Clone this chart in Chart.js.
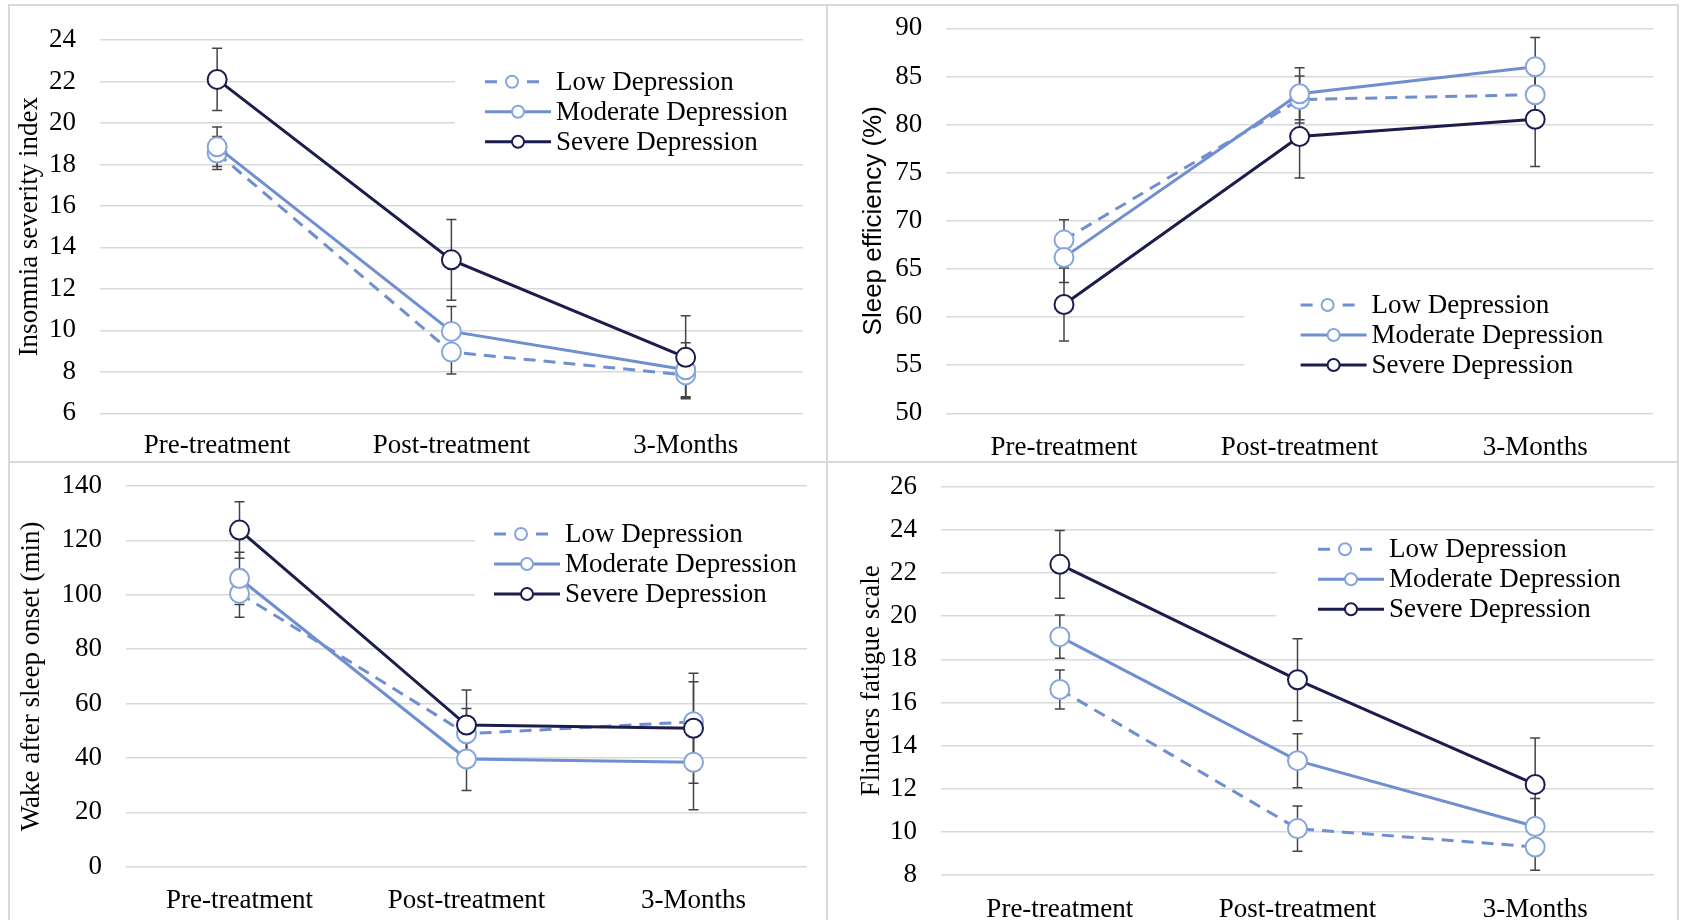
<!DOCTYPE html>
<html>
<head>
<meta charset="utf-8">
<script src="https://cdn.jsdelivr.net/npm/chart.js@4.4.1/dist/chart.umd.min.js"></script>
<style>
  body { margin: 0; background: #fff; width: 1682px; height: 920px; overflow: hidden; position: relative; }
  canvas { position: absolute; }
  .ln { position: absolute; background: #d9d9d9; z-index: 2; }
</style>
</head>
<body>
<canvas id="isi" width="818" height="457" style="left:9px;top:5px"></canvas>
<canvas id="se" width="851" height="457" style="left:827px;top:5px"></canvas>
<canvas id="waso" width="818" height="458" style="left:9px;top:462px"></canvas>
<canvas id="ffs" width="851" height="458" style="left:827px;top:462px"></canvas>

<div class="ln" style="left:8px;top:4px;width:1671px;height:2px"></div>
<div class="ln" style="left:8px;top:461px;width:1671px;height:2px"></div>
<div class="ln" style="left:8px;top:4px;width:2px;height:916px"></div>
<div class="ln" style="left:826px;top:4px;width:2px;height:916px"></div>
<div class="ln" style="left:1677px;top:4px;width:2px;height:916px"></div>

<script>
  const timepoints = ['Pre-treatment', 'Post-treatment', '3-Months'];
  const groups = ['Low Depression', 'Moderate Depression', 'Severe Depression'];

  // insomnia severity index
  const isiLow = [18.55, 8.95, 7.85];
  const isiLowErr = [0.8, 1.05, 1.1];
  const isiMod = [18.85, 9.95, 8.1];
  const isiModErr = [0.95, 1.2, 1.3];
  const isiSev = [22.1, 13.4, 8.7];
  const isiSevErr = [1.5, 1.95, 2.0];
  const isiTicks = [6, 24, 2];

  // sleep efficiency (%)
  const seLow = [68.0, 82.6, 83.1];
  const seLowErr = [2.1, 2.45, 2.5];
  const seMod = [66.2, 83.2, 86.0];
  const seModErr = [2.6, 2.7, 3.05];
  const seSev = [61.3, 78.75, 80.55];
  const seSevErr = [3.8, 4.3, 4.9];
  const seTicks = [50, 90, 5];

  // wake after sleep onset (min)
  const wasoLow = [100.5, 48.9, 53.3];
  const wasoLowErr = [8.8, 9.3, 14.7];
  const wasoMod = [106.0, 39.6, 38.4];
  const wasoModErr = [9.6, 11.6, 17.5];
  const wasoSev = [123.8, 52.1, 50.9];
  const wasoSevErr = [10.4, 12.9, 20.2];
  const wasoTicks = [0, 140, 20];

  // flinders fatigue scale
  const ffsLow = [16.6, 10.15, 9.3];
  const ffsLowErr = [0.9, 1.05, 1.08];
  const ffsMod = [19.05, 13.3, 10.25];
  const ffsModErr = [1.0, 1.25, 1.3];
  const ffsSev = [22.4, 17.05, 12.2];
  const ffsSevErr = [1.57, 1.9, 2.15];
  const ffsTicks = [8, 26, 2];

  const blue = '#6f8fd0';
  const blueMarker = '#86a5dd';
  const navy = '#1c1d4d';
  const serif = 'Liberation Serif';

  Chart.defaults.font.family = serif;
  Chart.defaults.font.size = 27;
  Chart.defaults.color = '#000';

  // white box + legend rows drawn inside the plot
  const boxLegend = {
    id: 'boxLegend',
    beforeDatasetsDraw(chart, args, opts) {
      const ctx = chart.ctx;
      const area = chart.chartArea;
      const rowGap = 30;
      ctx.save();
      ctx.fillStyle = '#fff';
      ctx.fillRect(opts.boxLeft, opts.row - 17, area.right - opts.boxLeft + 2, rowGap * 2 + 34);

      chart.data.datasets.forEach((ds, i) => {
        const y = opts.row + i * rowGap;
        const x = opts.lineX;
        ctx.strokeStyle = ds.borderColor;
        ctx.lineWidth = 3;
        ctx.beginPath();
        let cx = x + 33;
        if (ds.borderDash) {
          cx = x + 27;
          ctx.moveTo(x, y); ctx.lineTo(x + 12, y);
          ctx.moveTo(x + 42, y); ctx.lineTo(x + 54, y);
        } else {
          ctx.moveTo(x, y); ctx.lineTo(x + 66, y);
        }
        ctx.stroke();
        ctx.beginPath();
        ctx.arc(cx, y, 6, 0, Math.PI * 2);
        ctx.fillStyle = '#fff';
        ctx.fill();
        ctx.strokeStyle = ds.pointBorderColor;
        ctx.lineWidth = 2;
        ctx.stroke();

        ctx.fillStyle = '#000';
        ctx.font = '27px "' + serif + '"';
        ctx.textBaseline = 'middle';
        ctx.textAlign = 'left';
        ctx.fillText(ds.label, x + 71, y + 1);
      });
      ctx.restore();
    }
  };

  const errorBars = {
    id: 'errorBars',
    beforeDatasetsDraw(chart) {
      const ctx = chart.ctx;
      const yScale = chart.scales.y;
      ctx.save();
      ctx.strokeStyle = '#444';
      ctx.lineWidth = 1.5;
      chart.data.datasets.forEach((ds, i) => {
        const meta = chart.getDatasetMeta(i);
        meta.data.forEach((pt, j) => {
          const top = yScale.getPixelForValue(ds.data[j] + ds.errors[j]);
          const bot = yScale.getPixelForValue(ds.data[j] - ds.errors[j]);
          ctx.beginPath();
          ctx.moveTo(pt.x, top); ctx.lineTo(pt.x, bot);
          ctx.moveTo(pt.x - 5, top); ctx.lineTo(pt.x + 5, top);
          ctx.moveTo(pt.x - 5, bot); ctx.lineTo(pt.x + 5, bot);
          ctx.stroke();
        });
      });
      ctx.restore();
    }
  };

  function series(label, data, errors, color, marker, dashed, order) {
    return {
      label: label,
      data: data,
      errors: errors,
      borderColor: color,
      borderWidth: 3,
      borderDash: dashed ? [12, 8] : undefined,
      pointRadius: 9.5,
      pointHoverRadius: 9.5,
      pointBorderWidth: 2,
      pointBackgroundColor: '#fff',
      pointBorderColor: marker,
      tension: 0,
      order: order
    };
  }

  function createChart(id, cfg) {
    const el = document.getElementById(id);
    return new Chart(el.getContext('2d'), {
      type: 'line',
      data: {
        labels: timepoints,
        datasets: [
          series(groups[0], cfg.low, cfg.lowErr, blue, blueMarker, true, 3),
          series(groups[1], cfg.mod, cfg.modErr, blue, blueMarker, false, 2),
          series(groups[2], cfg.sev, cfg.sevErr, navy, navy, false, 1)
        ]
      },
      plugins: [boxLegend, errorBars],
      options: {
        responsive: false,
        animation: false,
        events: [],
        layout: { padding: { left: 0, top: cfg.pad[0], right: cfg.pad[1], bottom: 0 } },
        plugins: {
          legend: { display: false },
          tooltip: { enabled: false },
          boxLegend: cfg.legend
        },
        scales: {
          x: {
            offset: true,
            grid: { display: false },
            border: { display: false },
            ticks: { padding: cfg.xPad, maxRotation: 0, autoSkip: false },
            afterFit: (s) => {
              s.height = cfg.xHeight;
              s.paddingLeft = 0; s.paddingRight = 0;
            }
          },
          y: {
            min: cfg.ticks[0],
            max: cfg.ticks[1],
            grid: { color: '#d9d9d9', lineWidth: 1.5, drawTicks: false },
            border: { display: false },
            ticks: { stepSize: cfg.ticks[2], padding: 24 },
            title: {
              display: true,
              text: cfg.title,
              font: { family: cfg.titleFont || serif, size: cfg.titleSize || 27 },
              padding: { top: cfg.titlePad, bottom: 0 }
            },
            afterFit: (s) => {
              s.width = cfg.yWidth;
              s.paddingTop = 0; s.paddingBottom = 0;
            }
          }
        }
      }
    });
  }

  createChart('isi', {
    low: isiLow, lowErr: isiLowErr, mod: isiMod, modErr: isiModErr, sev: isiSev, sevErr: isiSevErr,
    ticks: isiTicks, title: 'Insomnia severity index', titlePad: 5,
    yWidth: 91, xHeight: 48.7, xPad: 8, pad: [35, 24.2],
    legend: { boxLeft: 446, lineX: 476, row: 76.7 }
  });

  createChart('se', {
    low: seLow, lowErr: seLowErr, mod: seMod, modErr: seModErr, sev: seSev, sevErr: seSevErr,
    ticks: seTicks, title: 'Sleep efficiency (%)', titleFont: 'Liberation Sans', titleSize: 26, titlePad: 31,
    yWidth: 119.2, xHeight: 48.7, xPad: 10, pad: [23.3, 25],
    legend: { boxLeft: 417, lineX: 473.6, row: 300 }
  });

  createChart('waso', {
    low: wasoLow, lowErr: wasoLowErr, mod: wasoMod, modErr: wasoModErr, sev: wasoSev, sevErr: wasoSevErr,
    ticks: wasoTicks, title: 'Wake after sleep onset (min)', titlePad: 7,
    yWidth: 117, xHeight: 53.3, xPad: 10, pad: [24, 20],
    legend: { boxLeft: 466, lineX: 485, row: 72 }
  });

  createChart('ffs', {
    low: ffsLow, lowErr: ffsLowErr, mod: ffsMod, modErr: ffsModErr, sev: ffsSev, sevErr: ffsSevErr,
    ticks: ffsTicks, title: 'Flinders fatigue scale', titlePad: 29,
    yWidth: 114, xHeight: 45, xPad: 11, pad: [24.7, 24],
    legend: { boxLeft: 449.5, lineX: 491, row: 87.3 }
  });
</script>
</body>
</html>
